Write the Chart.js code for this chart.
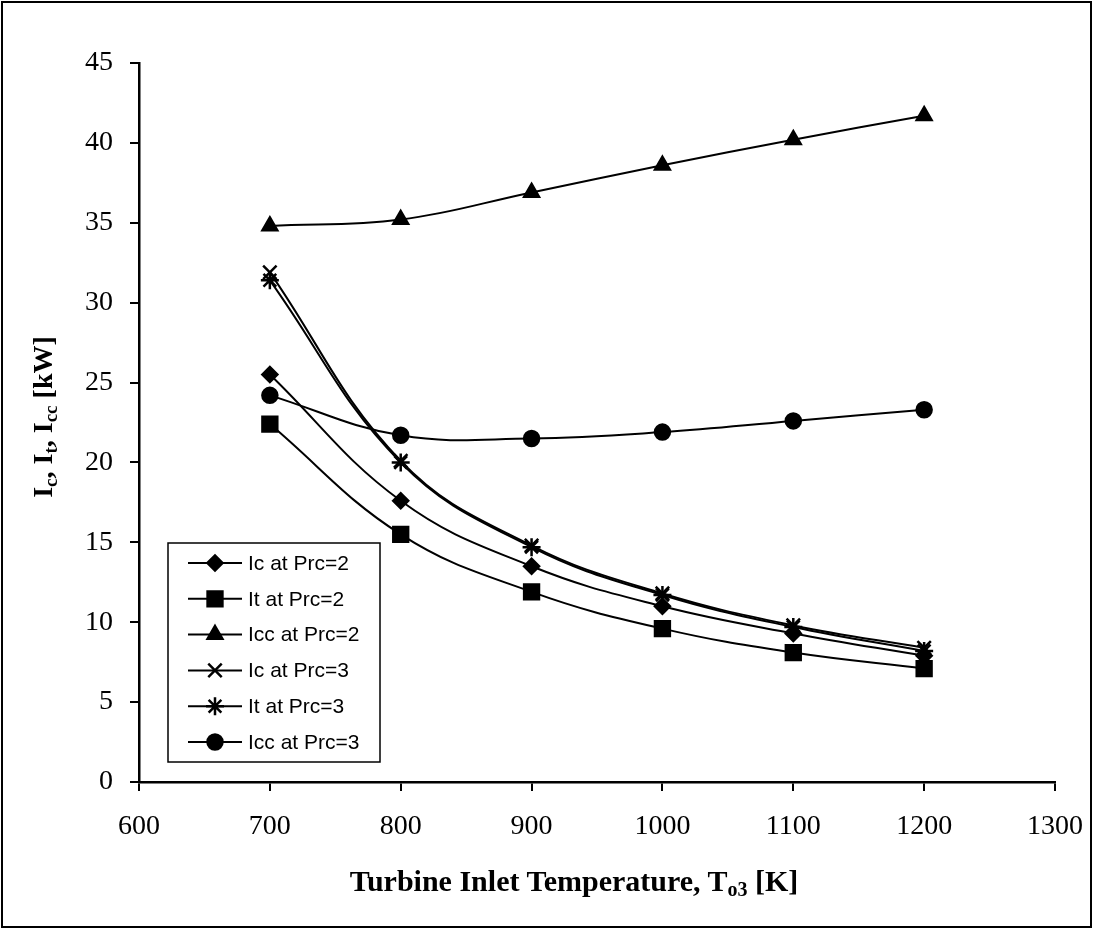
<!DOCTYPE html>
<html>
<head>
<meta charset="utf-8">
<script src="https://cdn.jsdelivr.net/npm/chart.js@4/dist/chart.umd.min.js"></script>
<style>
  body { margin: 0; background: #fff; }
  #wrap { position: relative; width: 1093px; height: 930px; }
  #frame { position: absolute; left: 1px; top: 1px; width: 1087px; height: 923px; border: 2px solid #000; pointer-events: none; }
  .ttl { position: absolute; font-family: "Liberation Serif", "DejaVu Serif", serif; font-weight: bold; font-size: 28px; color: #000; white-space: nowrap; }
  .ttl sub { font-size: 19px; vertical-align: -5px; }
  #xTitle { left: 574px; top: 882px; font-size: 30px; transform: translate(-50%, -50%); }
  #xTitle sub { font-size: 20px; }
  #yTitle { left: 44px; top: 417px; transform: translate(-50%, -50%) rotate(-90deg); }
</style>
</head>
<body>
<div id="wrap">
  <canvas id="chart" width="1093" height="930"></canvas>
  <div id="frame"></div>
  <div class="ttl" id="xTitle">Turbine Inlet Temperature, T<sub>o3</sub> [K]</div>
  <div class="ttl" id="yTitle">I<sub>c</sub>, I<sub>t</sub>, I<sub>cc</sub> [kW]</div>
</div>
<script>
// values
const temps = [700, 800, 900, 1000, 1100, 1200];
const icPrc2 = [25.5, 17.6, 13.5, 11.0, 9.3, 7.9];
const itPrc2 = [22.4, 15.5, 11.9, 9.6, 8.1, 7.1];
const iccPrc2 = [34.8, 35.2, 36.9, 38.6, 40.2, 41.7];
const icPrc3 = [31.9, 20.1, 14.8, 11.8, 9.8, 8.4];
const itPrc3 = [31.4, 20.0, 14.7, 11.7, 9.7, 8.2];
const iccPrc3 = [24.2, 21.7, 21.5, 21.9, 22.6, 23.3];
const seriesNames = ['Ic at Prc=2', 'It at Prc=2', 'Icc at Prc=2', 'Ic at Prc=3', 'It at Prc=3', 'Icc at Prc=3'];
const xTicks = [600, 700, 800, 900, 1000, 1100, 1200, 1300];
const yTicks = [0, 5, 10, 15, 20, 25, 30, 35, 40, 45];

const seriesValues = [icPrc2, itPrc2, iccPrc2, icPrc3, itPrc3, iccPrc3];
const markers = [
  { style: 'rectRot', r: 7.5 },
  { style: 'rect', r: 10.5 },
  { style: 'triangle', r: 8.5 },
  { style: 'crossRot', r: 9.5 },
  { style: 'star', r: 9 },
  { style: 'circle', r: 7.5 }
];

const datasets = seriesValues.map((vals, i) => ({
  label: seriesNames[i],
  data: vals.map((v, j) => ({ x: temps[j], y: v })),
  borderColor: '#000',
  backgroundColor: '#000',
  borderWidth: 2,
  pointStyle: markers[i].style,
  pointRadius: markers[i].r,
  pointBorderWidth: 2.5,
  pointBackgroundColor: '#000',
  pointBorderColor: '#000',
  tension: 0.4,
  fill: false
}));

// legend box drawn inside the plot, line + marker + label
const boxLegend = {
  id: 'boxLegend',
  afterDraw(chart) {
    const ctx = chart.ctx;
    const a = chart.chartArea;
    const left = a.left + 29, top = a.top + 480, w = 212, h = 219;
    ctx.save();
    ctx.strokeStyle = '#000';
    ctx.lineWidth = 1.5;
    ctx.strokeRect(left, top, w, h);
    ctx.font = '21px "Liberation Sans", Arial, sans-serif';
    ctx.textBaseline = 'middle';
    ctx.fillStyle = '#000';
    seriesNames.forEach((name, i) => {
      const y = top + 20 + i * 35.8;
      ctx.beginPath();
      ctx.lineWidth = 2;
      ctx.moveTo(left + 20, y);
      ctx.lineTo(left + 74, y);
      ctx.stroke();
      ctx.lineWidth = 2.5;
      Chart.helpers.drawPoint(ctx, {
        pointStyle: markers[i].style,
        radius: markers[i].r,
        borderWidth: 2.5,
        rotation: 0
      }, left + 47, y);
      ctx.fill();
      ctx.fillText(name, left + 80, y + 1);
    });
    ctx.restore();
  }
};

const serif = '"Liberation Serif", "DejaVu Serif", serif';

new Chart(document.getElementById('chart'), {
  type: 'line',
  data: { datasets },
  options: {
    responsive: false,
    animation: false,
    layout: { padding: { left: 0, right: 38, top: 63, bottom: 0 } },
    plugins: { legend: { display: false }, tooltip: { enabled: false } },
    scales: {
      x: {
        type: 'linear',
        min: 600,
        max: 1300,
        afterFit(scale) { scale.height = 148; scale.paddingLeft = 0; scale.paddingRight = 0; },
        afterBuildTicks(scale) { scale.ticks = xTicks.map(v => ({ value: v })); },
        grid: { drawOnChartArea: false, drawTicks: true, tickLength: 9, color: '#000', lineWidth: 2 },
        border: { color: '#000', width: 2.5 },
        ticks: { color: '#000', font: { family: serif, size: 28 }, padding: 19, maxRotation: 0, callback: v => String(v) }
      },
      y: {
        min: 0,
        max: 45,
        afterFit(scale) { scale.width = 139; scale.paddingTop = 0; scale.paddingBottom = 0; },
        afterBuildTicks(scale) { scale.ticks = yTicks.map(v => ({ value: v })); },
        grid: { drawOnChartArea: false, drawTicks: true, tickLength: 9, color: '#000', lineWidth: 2 },
        border: { color: '#000', width: 2.5 },
        ticks: { color: '#000', font: { family: serif, size: 28 }, padding: 17, callback: v => String(v) }
      }
    }
  },
  plugins: [boxLegend]
});
</script>
</body>
</html>
